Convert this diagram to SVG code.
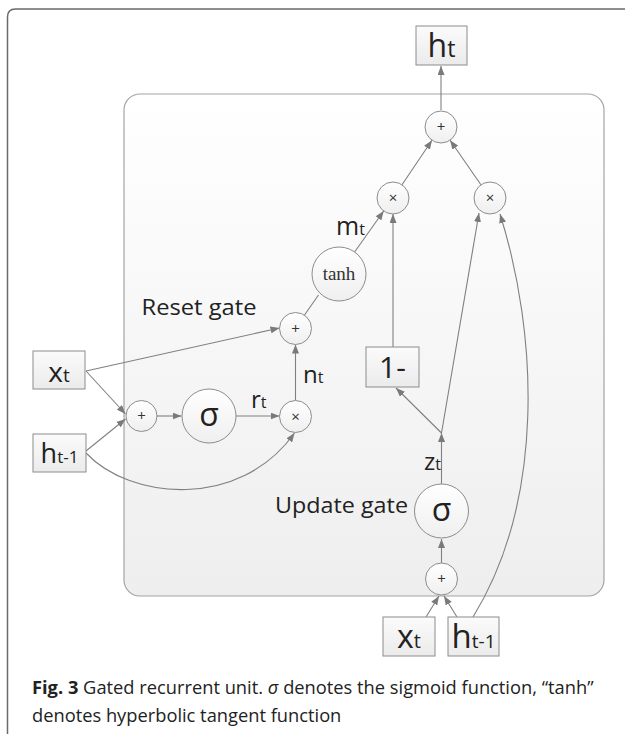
<svg xmlns="http://www.w3.org/2000/svg" width="625" height="734" viewBox="0 0 625 734">
<defs>
<linearGradient id="gPanel" x1="0" y1="0" x2="0" y2="1"><stop offset="0" stop-color="#ffffff"/><stop offset="1" stop-color="#eeeeee"/></linearGradient>
<linearGradient id="gNode" x1="0" y1="0" x2="0" y2="1"><stop offset="0" stop-color="#ffffff"/><stop offset="1" stop-color="#efefef"/></linearGradient>
<linearGradient id="gBox" x1="0" y1="0" x2="0" y2="1"><stop offset="0" stop-color="#fbfbfb"/><stop offset="1" stop-color="#ebebeb"/></linearGradient>
<marker id="arr" markerUnits="userSpaceOnUse" markerWidth="9" markerHeight="7" refX="9" refY="3.5" orient="auto"><path d="M0,0 L9,3.5 L0,7 z" fill="#7a7a7a"/></marker>
<style>
.frame{fill:none;stroke:#6a6a6a;stroke-width:1.5}
.panel{fill:url(#gPanel);stroke:#a4a4a4;stroke-width:1.2}
.node{fill:url(#gNode);stroke:#8c8c8c;stroke-width:1}
.box{fill:url(#gBox);stroke:#8c8c8c;stroke-width:1}
.op{font-family:"Open Sans","DejaVu Sans",sans-serif;font-size:15px;fill:#333;text-anchor:middle}
.lbl{font-family:"Open Sans","DejaVu Sans",sans-serif;fill:#222}
.sig{font-family:"Open Sans","DejaVu Sans",sans-serif;font-size:32px;fill:#222;text-anchor:middle}
.tanh{font-family:"Liberation Serif","Times New Roman",serif;font-size:19px;fill:#333;text-anchor:middle}
.cap{font-family:"Open Sans","Liberation Sans",sans-serif;font-size:18.3px;fill:#222}
#connectors line,#connectors path{fill:none;stroke:#808080;stroke-width:1.1}
</style>
</defs>
<path class="frame" d="M7.5,734 L7.5,17 Q7.5,9 15.5,9 L625,9"/>
<rect id="panel" class="panel" x="124" y="94" width="480" height="502" rx="16"/>

<g id="connectors">
<line x1="441" y1="110" x2="441" y2="66" marker-end="url(#arr)"/>
<line x1="402" y1="184.8" x2="432" y2="140.2" marker-end="url(#arr)"/>
<line x1="480.9" y1="184.8" x2="450.1" y2="140.2" marker-end="url(#arr)"/>
<line x1="354.6" y1="252" x2="383.7" y2="211" marker-end="url(#arr)"/>
<line x1="393" y1="347" x2="393" y2="214" marker-end="url(#arr)"/>
<line x1="441.5" y1="433" x2="396" y2="388" marker-end="url(#arr)"/>
<line x1="441.5" y1="433" x2="479" y2="213" marker-end="url(#arr)"/>
<line x1="441.5" y1="484" x2="441.5" y2="433" marker-end="url(#arr)"/>
<line x1="441.5" y1="563" x2="441.5" y2="539" marker-end="url(#arr)"/>
<line x1="426" y1="617" x2="439" y2="596" marker-end="url(#arr)"/>
<line x1="457" y1="617" x2="444" y2="596" marker-end="url(#arr)"/>
<path d="M473,617 C545,500 538,335 500,214" marker-end="url(#arr)"/>
<line x1="86" y1="371" x2="279.5" y2="328" marker-end="url(#arr)"/>
<line x1="86" y1="371" x2="125.5" y2="414" marker-end="url(#arr)"/>
<line x1="86" y1="451" x2="125.5" y2="419" marker-end="url(#arr)"/>
<line x1="157" y1="416" x2="181.5" y2="416" marker-end="url(#arr)"/>
<line x1="236" y1="416" x2="279.5" y2="416" marker-end="url(#arr)"/>
<line x1="295.5" y1="400.5" x2="295.5" y2="344.5" marker-end="url(#arr)"/>
<line x1="304.5" y1="315" x2="318.5" y2="295"/>
<path d="M86,453 C130,500 240,510 294.5,433" marker-end="url(#arr)"/>
</g>

<g id="h_t_out"><rect class="box" x="416" y="26" width="51" height="39"/><text class="lbl" x="441.5" y="57" text-anchor="middle" font-size="32">h<tspan font-size="23">t</tspan></text></g>
<g id="add_out"><circle class="node" cx="441" cy="127" r="16"/><text class="op" x="441" y="132">+</text></g>
<g id="mul_left"><circle class="node" cx="393" cy="198" r="16"/><text class="op" x="393" y="203">×</text></g>
<g id="mul_right"><circle class="node" cx="490" cy="198" r="16"/><text class="op" x="490" y="203">×</text></g>
<g id="label_m"><text class="lbl" x="336" y="235" font-size="25">m<tspan font-size="16">t</tspan></text></g>
<g id="tanh"><circle class="node" cx="339" cy="274" r="27"/><text class="tanh" x="339" y="280">tanh</text></g>
<g id="reset_label"><text class="lbl" x="141.5" y="315" font-size="21" textLength="115" lengthAdjust="spacingAndGlyphs">Reset gate</text></g>
<g id="add_reset"><circle class="node" cx="295.5" cy="328.5" r="16"/><text class="op" x="295.5" y="333.5">+</text></g>
<g id="one_minus"><rect class="box" x="366" y="347" width="53" height="40"/><text class="lbl" x="392.5" y="378" text-anchor="middle" font-size="30">1-</text></g>
<g id="x_t_left"><rect class="box" x="33" y="351" width="52" height="38"/><text class="lbl" x="59" y="382" text-anchor="middle" font-size="28">x<tspan font-size="19">t</tspan></text></g>
<g id="h_t1_left"><rect class="box" x="33" y="434" width="53" height="38"/><text class="lbl" x="59.5" y="463" text-anchor="middle" font-size="27">h<tspan font-size="17">t-1</tspan></text></g>
<g id="add_left"><circle class="node" cx="141.5" cy="416" r="15.5"/><text class="op" x="141.5" y="421">+</text></g>
<g id="sigma_reset"><circle class="node" cx="209" cy="416" r="27"/><text class="sig" x="209" y="426">σ</text></g>
<g id="label_r"><text class="lbl" x="251" y="408" font-size="24">r<tspan font-size="16">t</tspan></text></g>
<g id="mul_reset"><circle class="node" cx="295.5" cy="416.5" r="16"/><text class="op" x="295.5" y="421.5">×</text></g>
<g id="label_n"><text class="lbl" x="303" y="383" font-size="24">n<tspan font-size="16">t</tspan></text></g>
<g id="label_z"><text class="lbl" x="424" y="470" font-size="24">z<tspan font-size="16">t</tspan></text></g>
<g id="update_label"><text class="lbl" x="275" y="513" font-size="22" textLength="133" lengthAdjust="spacingAndGlyphs">Update gate</text></g>
<g id="sigma_update"><circle class="node" cx="441.5" cy="511" r="27"/><text class="sig" x="441.5" y="521">σ</text></g>
<g id="add_update"><circle class="node" cx="441.5" cy="579" r="16"/><text class="op" x="441.5" y="584">+</text></g>
<g id="x_t_bottom"><rect class="box" x="383" y="617" width="52" height="39"/><text class="lbl" x="409" y="648" text-anchor="middle" font-size="32">x<tspan font-size="20">t</tspan></text></g>
<g id="h_t1_bottom"><rect class="box" x="448" y="617" width="51" height="39"/><text class="lbl" x="473.5" y="648" text-anchor="middle" font-size="33">h<tspan font-size="19">t-1</tspan></text></g>

<g id="caption">
<text class="cap" x="32" y="694"><tspan font-weight="bold">Fig. 3</tspan> Gated recurrent unit. <tspan font-style="italic">σ</tspan> denotes the sigmoid function, “tanh”</text>
<text class="cap" x="32" y="722">denotes hyperbolic tangent function</text>
</g>
</svg>
